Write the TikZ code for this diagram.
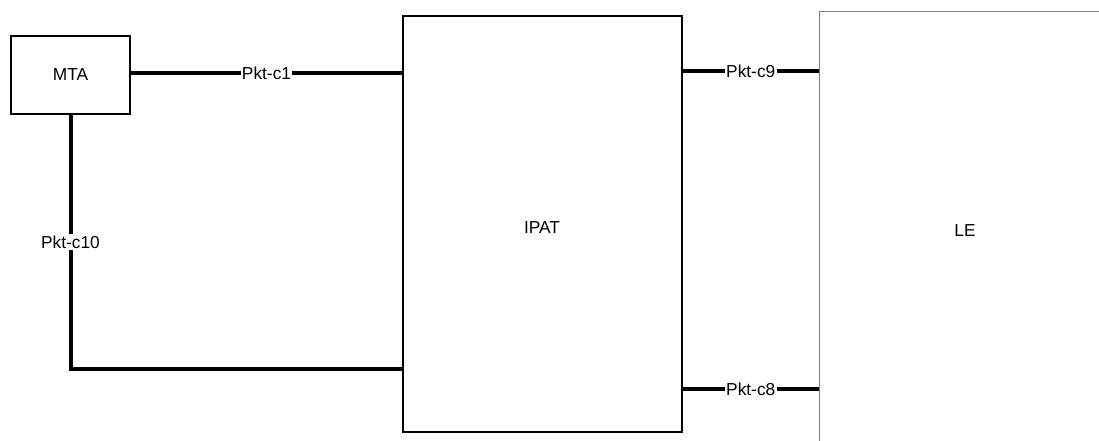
\documentclass[tikz,border=0pt]{standalone}
\usepackage{fontspec}
\setmainfont{Liberation Sans}
\definecolor{boxcol}{RGB}{0, 0, 0}
\definecolor{lecol}{RGB}{125, 125, 125}
\definecolor{linkcol}{RGB}{0, 0, 0}

\begin{document}
\begin{tikzpicture}[x=0.75pt, y=-0.75pt,
    unit/.style={draw=boxcol, line width=1.5pt, rectangle, inner sep=0pt, font=\fontsize{13}{15}\selectfont},
    link/.style={linkcol, line width=3pt},
    linklabel/.style={fill=white, inner sep=1pt, font=\fontsize{13}{15}\selectfont}]
    \useasboundingbox (0,0) rectangle (1099,441);
    \clip (0,0) rectangle (1099,441);

    % Boxes
    \node[unit, minimum width=119*0.75pt, minimum height=78*0.75pt] (MTA) at (70.5,75) {MTA};
    \node[unit, minimum width=279*0.75pt, minimum height=416*0.75pt] (IPAT) at (542.5,224) {};
    \node[font=\fontsize{13}{15}\selectfont] (ipatlabel) at (542,228) {IPAT};
    % LE runs off the page on the right and at the bottom
    \node[draw=lecol, line width=0.75pt, rectangle, inner sep=0pt,
          minimum width=292*0.75pt, minimum height=439*0.75pt,
          font=\fontsize{13}{15}\selectfont] (LE) at (965,231) {LE};

    % Port points
    \coordinate (c1) at (130,73);
    \coordinate (c9) at (682,71);
    \coordinate (c8) at (682,389);
    \coordinate (c10) at (70.5,369);

    % Links
    \draw[link] (MTA.east |- c1) -- node[linklabel] {Pkt-c1} (IPAT.west |- c1);
    \draw[link] (IPAT.east |- c9) -- node[linklabel] {Pkt-c9} (LE.west |- c9);
    \draw[link] (IPAT.east |- c8) -- node[linklabel] {Pkt-c8} (LE.west |- c8);
    \draw[link] (MTA.south) -- node[linklabel, pos=0.5] {Pkt-c10} (c10) -- (IPAT.west |- c10);

\end{tikzpicture}
\end{document}
